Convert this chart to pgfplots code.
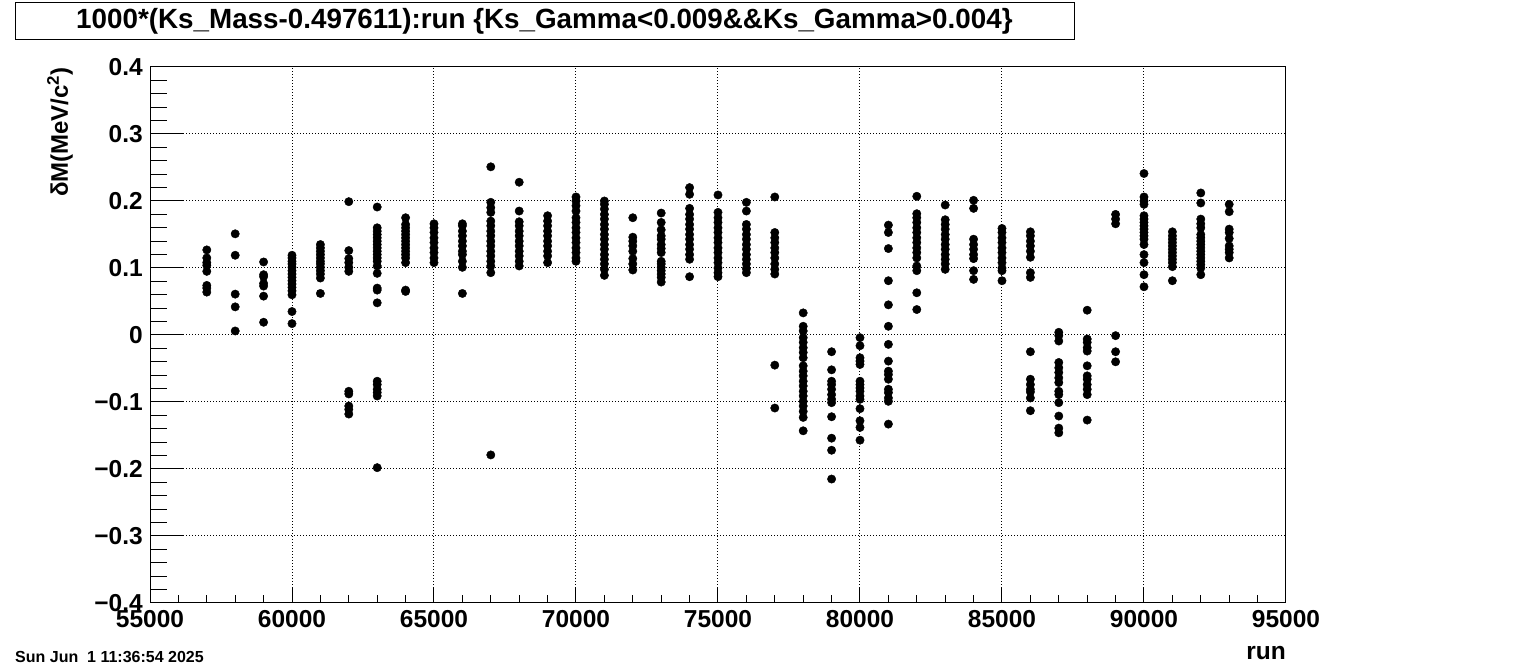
\documentclass[border=0pt]{standalone}
\usepackage{fontspec}
\setmainfont{Liberation Sans}
\usepackage{pgfplots}
\pgfplotsset{compat=1.18}

% 1 px of the reference = 1 pt here
\begin{document}
\begin{tikzpicture}[x=1pt,y=1pt]
\useasboundingbox (0,0) rectangle (1513,669);

% title box
\draw[line width=1pt] (15,629) rectangle (1074,666);
\node[anchor=base, inner sep=0pt, font=\fontsize{27.8}{30}\selectfont\bfseries]
  at (544.5,640) {1000*(Ks\_Mass-0.497611):run \{Ks\_Gamma<0.009\&\&Ks\_Gamma>0.004\}};

\begin{axis}[
  at={(150pt,66pt)}, anchor=south west,
  scale only axis, width=1136pt, height=536pt,
  xmin=55000, xmax=95000, ymin=-0.4, ymax=0.4,
  xtick={55000,60000,...,95000},
  xticklabels={55000,60000,65000,70000,75000,80000,85000,90000,95000},
  scaled x ticks=false,
  ytick={-0.4,-0.3,-0.2,-0.1,0,0.1,0.2,0.3,0.4},
  yticklabels={−0.4,−0.3,−0.2,−0.1,0,0.1,0.2,0.3,0.4},
  minor x tick num=4, minor y tick num=4,
  tick pos=left, tick align=inside,
  major tick length=34pt, minor tick length=17pt,
  x tick style={/pgfplots/major tick length=16pt, /pgfplots/minor tick length=8pt},
  tick style={black, line width=1pt},
  axis line style={line width=1pt},
  grid=major,
  major grid style={black, line width=1pt, dash pattern=on 1pt off 2pt},
  xticklabel style={font=\fontsize{24.5}{28}\selectfont\bfseries, inner sep=0pt, anchor=north, yshift=-7pt},
  yticklabel style={font=\fontsize{24.5}{28}\selectfont\bfseries, inner sep=0pt, anchor=east, xshift=-7pt},
  clip=false,
]
\addplot[only marks, mark=*, mark size=4.2pt, black] coordinates {
(57000,0.127)(57000,0.115)(57000,0.108)(57000,0.104)(57000,0.095)(57000,0.074)(57000,0.070)(57000,0.064)
(58000,0.151)(58000,0.119)(58000,0.061)(58000,0.042)(58000,0.006)
(59000,0.109)(59000,0.090)(59000,0.087)(59000,0.077)(59000,0.073)(59000,0.058)(59000,0.019)
(60000,0.119)(60000,0.115)(60000,0.110)(60000,0.106)(60000,0.101)(60000,0.096)(60000,0.091)(60000,0.086)
(60000,0.081)(60000,0.076)(60000,0.071)(60000,0.066)(60000,0.060)(60000,0.035)(60000,0.017)
(61000,0.135)(61000,0.130)(61000,0.125)(61000,0.120)(61000,0.115)(61000,0.110)(61000,0.106)(61000,0.101)
(61000,0.096)(61000,0.091)(61000,0.085)(61000,0.062)
(62000,0.199)(62000,0.126)(62000,0.114)(62000,0.108)(62000,0.101)(62000,0.095)
(62000,-0.084)(62000,-0.088)(62000,-0.106)(62000,-0.111)(62000,-0.118)
(63000,0.191)(63000,0.160)(63000,0.155)(63000,0.150)(63000,0.145)(63000,0.140)(63000,0.135)(63000,0.130)
(63000,0.125)(63000,0.120)(63000,0.115)(63000,0.110)(63000,0.103)(63000,0.092)(63000,0.070)(63000,0.067)
(63000,0.048)(63000,-0.069)(63000,-0.074)(63000,-0.081)(63000,-0.086)(63000,-0.091)(63000,-0.198)
(64000,0.175)(64000,0.165)(64000,0.160)(64000,0.155)(64000,0.150)(64000,0.145)(64000,0.140)(64000,0.135)
(64000,0.130)(64000,0.125)(64000,0.120)(64000,0.115)(64000,0.108)(64000,0.067)(64000,0.065)
(65000,0.166)(65000,0.160)(65000,0.153)(65000,0.145)(65000,0.138)(65000,0.130)(65000,0.123)(65000,0.115)(65000,0.108)
(66000,0.166)(66000,0.163)(66000,0.155)(66000,0.148)(66000,0.140)(66000,0.133)(66000,0.125)(66000,0.120)
(66000,0.110)(66000,0.101)(66000,0.062)
(67000,0.251)(67000,0.198)(67000,0.190)(67000,0.183)(67000,0.170)(67000,0.163)(67000,0.155)(67000,0.148)
(67000,0.140)(67000,0.133)(67000,0.125)(67000,0.118)(67000,0.110)(67000,0.103)(67000,0.093)(67000,-0.179)
(68000,0.228)(68000,0.185)(68000,0.169)(68000,0.163)(68000,0.155)(68000,0.148)(68000,0.140)(68000,0.133)
(68000,0.125)(68000,0.118)(68000,0.110)(68000,0.103)
(69000,0.178)(69000,0.170)(69000,0.163)(69000,0.155)(69000,0.148)(69000,0.140)(69000,0.133)(69000,0.125)
(69000,0.118)(69000,0.108)
(70000,0.206)(70000,0.200)(70000,0.193)(70000,0.185)(70000,0.175)(70000,0.168)(70000,0.160)(70000,0.153)
(70000,0.145)(70000,0.138)(70000,0.130)(70000,0.123)(70000,0.115)(70000,0.110)
(71000,0.200)(71000,0.195)(71000,0.188)(71000,0.180)(71000,0.173)(71000,0.165)(71000,0.158)(71000,0.150)
(71000,0.143)(71000,0.135)(71000,0.128)(71000,0.120)(71000,0.113)(71000,0.106)(71000,0.098)(71000,0.089)
(72000,0.175)(72000,0.146)(72000,0.140)(72000,0.133)(72000,0.125)(72000,0.114)(72000,0.106)(72000,0.097)
(73000,0.182)(73000,0.168)(73000,0.157)(73000,0.148)(73000,0.143)(73000,0.135)(73000,0.129)(73000,0.123)
(73000,0.110)(73000,0.106)(73000,0.101)(73000,0.096)(73000,0.091)(73000,0.086)(73000,0.079)
(74000,0.220)(74000,0.210)(74000,0.189)(74000,0.180)(74000,0.173)(74000,0.165)(74000,0.158)(74000,0.150)
(74000,0.143)(74000,0.135)(74000,0.128)(74000,0.120)(74000,0.113)(74000,0.087)
(75000,0.209)(75000,0.183)(75000,0.175)(75000,0.168)(75000,0.160)(75000,0.153)(75000,0.145)(75000,0.138)
(75000,0.130)(75000,0.123)(75000,0.115)(75000,0.108)(75000,0.100)(75000,0.093)(75000,0.087)
(76000,0.198)(76000,0.185)(76000,0.165)(76000,0.158)(76000,0.150)(76000,0.143)(76000,0.135)(76000,0.128)
(76000,0.120)(76000,0.113)(76000,0.106)(76000,0.099)(76000,0.093)
(77000,0.206)(77000,0.153)(77000,0.145)(77000,0.138)(77000,0.130)(77000,0.123)(77000,0.115)(77000,0.106)
(77000,0.098)(77000,0.091)(77000,-0.045)(77000,-0.109)
(78000,0.033)(78000,0.013)(78000,0.006)(78000,-0.004)(78000,-0.011)(78000,-0.019)(78000,-0.026)(78000,-0.034)
(78000,-0.046)(78000,-0.054)(78000,-0.061)(78000,-0.069)(78000,-0.076)(78000,-0.084)(78000,-0.091)(78000,-0.099)
(78000,-0.106)(78000,-0.114)(78000,-0.123)(78000,-0.143)
(79000,-0.025)(79000,-0.052)(79000,-0.069)(79000,-0.074)(79000,-0.081)(79000,-0.089)(79000,-0.096)(79000,-0.101)
(79000,-0.122)(79000,-0.154)(79000,-0.172)(79000,-0.215)
(80000,-0.004)(80000,-0.016)(80000,-0.034)(80000,-0.039)(80000,-0.044)(80000,-0.069)(80000,-0.074)(80000,-0.079)
(80000,-0.084)(80000,-0.091)(80000,-0.096)(80000,-0.110)(80000,-0.128)(80000,-0.138)(80000,-0.157)
(81000,0.164)(81000,0.153)(81000,0.129)(81000,0.081)(81000,0.045)(81000,0.013)(81000,-0.014)(81000,-0.039)
(81000,-0.054)(81000,-0.059)(81000,-0.066)(81000,-0.081)(81000,-0.086)(81000,-0.094)(81000,-0.099)(81000,-0.133)
(82000,0.207)(82000,0.181)(82000,0.175)(82000,0.168)(82000,0.160)(82000,0.153)(82000,0.145)(82000,0.138)
(82000,0.130)(82000,0.123)(82000,0.115)(82000,0.103)(82000,0.096)(82000,0.063)(82000,0.038)
(83000,0.194)(83000,0.172)(83000,0.165)(83000,0.158)(83000,0.150)(83000,0.143)(83000,0.135)(83000,0.128)
(83000,0.120)(83000,0.113)(83000,0.106)(83000,0.098)
(84000,0.201)(84000,0.189)(84000,0.143)(84000,0.135)(84000,0.128)(84000,0.120)(84000,0.114)(84000,0.096)(84000,0.083)
(85000,0.159)(85000,0.153)(85000,0.145)(85000,0.138)(85000,0.130)(85000,0.123)(85000,0.115)(85000,0.108)
(85000,0.100)(85000,0.096)(85000,0.081)
(86000,0.154)(86000,0.148)(86000,0.140)(86000,0.133)(86000,0.125)(86000,0.116)(86000,0.093)(86000,0.086)
(86000,-0.025)(86000,-0.066)(86000,-0.074)(86000,-0.081)(86000,-0.085)(86000,-0.094)(86000,-0.113)
(87000,0.004)(87000,-0.001)(87000,-0.009)(87000,-0.041)(87000,-0.049)(87000,-0.056)(87000,-0.064)(87000,-0.071)
(87000,-0.084)(87000,-0.089)(87000,-0.101)(87000,-0.121)(87000,-0.139)(87000,-0.146)
(88000,0.037)(88000,-0.006)(88000,-0.011)(88000,-0.019)(88000,-0.024)(88000,-0.046)(88000,-0.061)(88000,-0.066)
(88000,-0.074)(88000,-0.081)(88000,-0.089)(88000,-0.127)
(89000,0.180)(89000,0.173)(89000,0.166)(89000,-0.001)(89000,-0.025)(89000,-0.040)
(90000,0.241)(90000,0.206)(90000,0.200)(90000,0.195)(90000,0.178)(90000,0.173)(90000,0.168)(90000,0.163)
(90000,0.158)(90000,0.153)(90000,0.148)(90000,0.143)(90000,0.135)(90000,0.120)(90000,0.108)(90000,0.090)(90000,0.072)
(91000,0.154)(91000,0.148)(91000,0.143)(91000,0.138)(91000,0.133)(91000,0.128)(91000,0.123)(91000,0.118)
(91000,0.113)(91000,0.108)(91000,0.102)(91000,0.081)
(92000,0.212)(92000,0.197)(92000,0.173)(92000,0.166)(92000,0.160)(92000,0.150)(92000,0.145)(92000,0.140)
(92000,0.135)(92000,0.130)(92000,0.125)(92000,0.120)(92000,0.115)(92000,0.110)(92000,0.105)(92000,0.100)(92000,0.090)
(93000,0.195)(93000,0.184)(93000,0.158)(93000,0.153)(93000,0.144)(93000,0.133)(93000,0.128)(93000,0.123)(93000,0.115)
};
\end{axis}

% axis titles and date stamp
\node[rotate=90, anchor=east, inner sep=0pt, font=\fontsize{24}{28}\selectfont\bfseries]
  at (60,602) {δM(MeV/c\textsuperscript{2})};
\node[anchor=base east, inner sep=0pt, font=\fontsize{24.5}{28}\selectfont\bfseries]
  at (1286,9) {run};
\node[anchor=base west, inner sep=0pt, font=\fontsize{16}{18}\selectfont\bfseries]
  at (15,6) {Sun Jun\ \ 1 11:36:54 2025};
\end{tikzpicture}
\end{document}
